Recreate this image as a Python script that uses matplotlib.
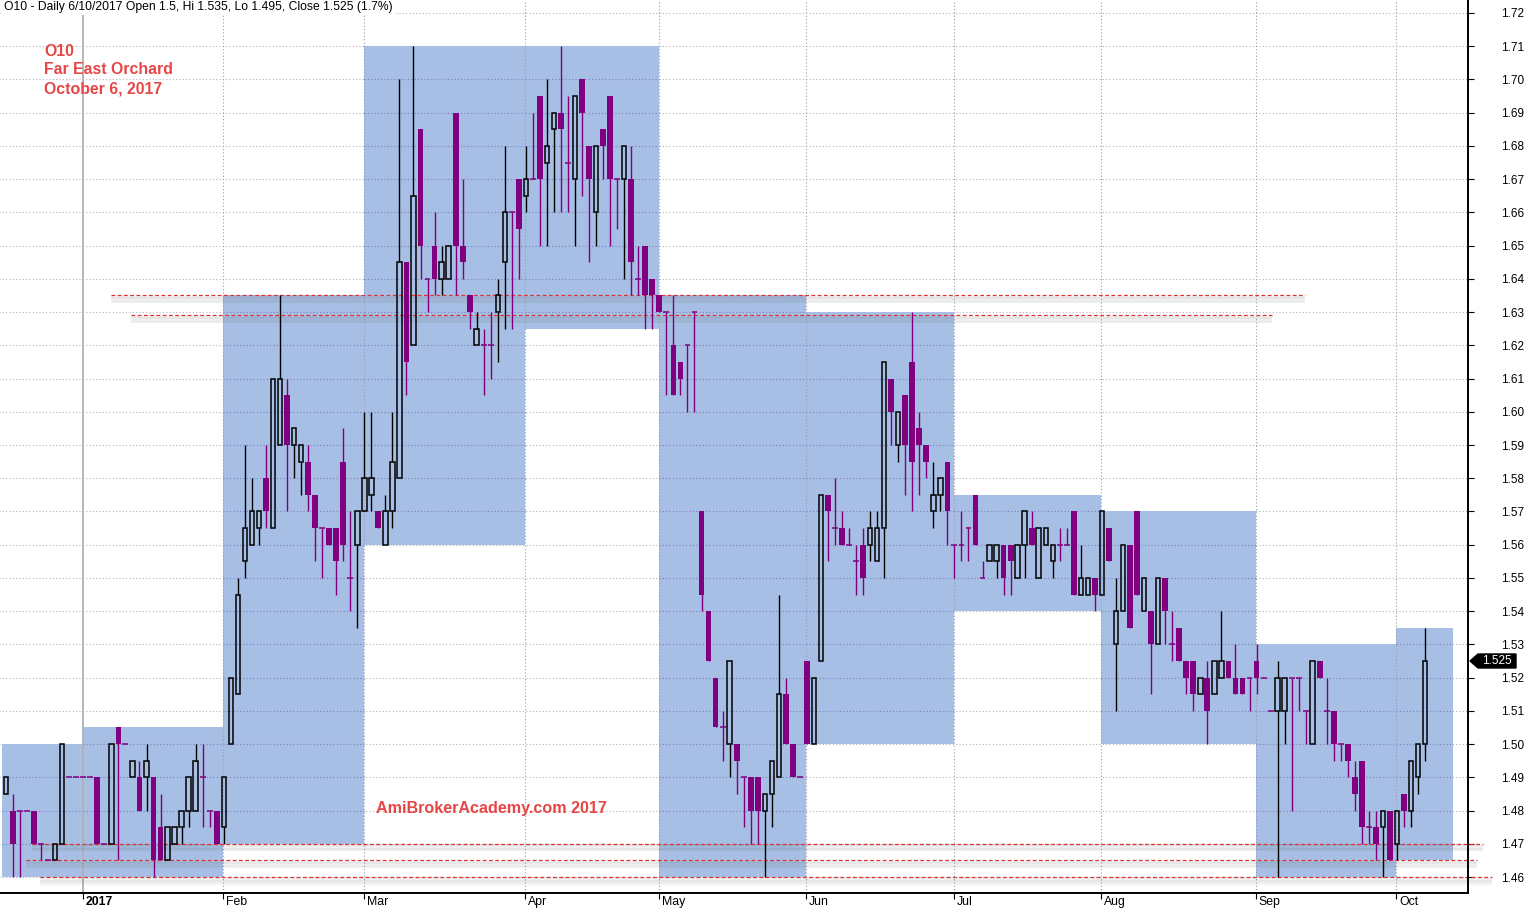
import matplotlib
matplotlib.use("Agg")
import matplotlib.pyplot as plt
import numpy as np
from matplotlib.patches import Rectangle, Polygon
from matplotlib.transforms import blended_transform_factory, offset_copy, ScaledTranslation

plt.rcParams['font.family'] = ['Liberation Sans', 'DejaVu Sans']

# O10 daily bars, end of Dec 2016 .. 6 Oct 2017 (0.005 ticks)
opens = [
    1.485, 1.48, 1.48, 1.48, 1.48, 1.47, 1.465, 1.465, 1.47, 1.49, 1.49,
    1.49, 1.49, 1.49, 1.47, 1.47, 1.505, 1.50, 1.49, 1.49, 1.49, 1.49, 1.475, 1.465, 1.47, 1.475, 1.48, 1.48, 1.49, 1.48, 1.48,
    1.475, 1.50, 1.515, 1.555, 1.56, 1.565, 1.58, 1.565, 1.59, 1.605, 1.59, 1.585, 1.585, 1.575, 1.565, 1.565, 1.565, 1.585, 1.55, 1.56,
    1.57, 1.575, 1.57, 1.56, 1.57, 1.58, 1.645, 1.62, 1.685, 1.64, 1.65, 1.64, 1.64, 1.69, 1.65, 1.635, 1.62, 1.62, 1.62, 1.63, 1.645, 1.66, 1.67,
    1.665, 1.67, 1.695, 1.675, 1.685, 1.69, 1.675, 1.67, 1.70, 1.68, 1.66, 1.685, 1.695, 1.67, 1.67, 1.67, 1.64, 1.65, 1.64,
    1.635, 1.63, 1.62, 1.615, 1.62, 1.63, 1.57, 1.54, 1.52, 1.505, 1.50, 1.50, 1.49, 1.49, 1.49, 1.48, 1.485, 1.49, 1.515, 1.50, 1.49,
    1.525, 1.50, 1.525, 1.575, 1.565, 1.565, 1.56, 1.555, 1.56, 1.56, 1.555, 1.565, 1.61, 1.59, 1.605, 1.615, 1.595, 1.59, 1.57, 1.575, 1.585,
    1.56, 1.56, 1.565, 1.575, 1.55, 1.555, 1.555, 1.56, 1.56, 1.55, 1.56, 1.565, 1.55, 1.56, 1.555, 1.56, 1.56, 1.57, 1.545, 1.545, 1.55,
    1.545, 1.565, 1.53, 1.54, 1.56, 1.57, 1.54, 1.54, 1.53, 1.55, 1.53, 1.535, 1.525, 1.525, 1.515, 1.52, 1.515, 1.52, 1.525, 1.52, 1.52, 1.52,
    1.525, 1.52, 1.51, 1.51, 1.51, 1.52, 1.52, 1.51, 1.50, 1.525, 1.51, 1.51, 1.50, 1.50, 1.49, 1.495, 1.475, 1.475, 1.475, 1.48,
    1.47, 1.485, 1.48, 1.49, 1.50,
]
highs = [
    1.49, 1.485, 1.48, 1.48, 1.48, 1.47, 1.465, 1.47, 1.50, 1.49, 1.49,
    1.49, 1.49, 1.49, 1.47, 1.50, 1.505, 1.50, 1.495, 1.495, 1.50, 1.49, 1.485, 1.475, 1.475, 1.48, 1.49, 1.50, 1.50, 1.48, 1.48,
    1.49, 1.52, 1.55, 1.59, 1.58, 1.57, 1.59, 1.61, 1.635, 1.61, 1.595, 1.59, 1.59, 1.575, 1.565, 1.565, 1.565, 1.595, 1.57, 1.57,
    1.60, 1.60, 1.57, 1.575, 1.60, 1.70, 1.645, 1.71, 1.685, 1.64, 1.66, 1.65, 1.65, 1.69, 1.67, 1.635, 1.63, 1.625, 1.63, 1.64, 1.68, 1.66, 1.67,
    1.68, 1.69, 1.695, 1.70, 1.69, 1.71, 1.695, 1.695, 1.70, 1.68, 1.68, 1.685, 1.695, 1.67, 1.68, 1.68, 1.65, 1.65, 1.64,
    1.635, 1.63, 1.635, 1.615, 1.62, 1.63, 1.57, 1.54, 1.52, 1.51, 1.525, 1.50, 1.49, 1.49, 1.49, 1.485, 1.495, 1.545, 1.52, 1.50, 1.49,
    1.525, 1.52, 1.575, 1.575, 1.58, 1.57, 1.565, 1.56, 1.565, 1.57, 1.57, 1.615, 1.61, 1.60, 1.605, 1.63, 1.60, 1.59, 1.585, 1.58, 1.585,
    1.56, 1.57, 1.565, 1.575, 1.555, 1.56, 1.56, 1.56, 1.56, 1.56, 1.57, 1.57, 1.565, 1.565, 1.56, 1.565, 1.565, 1.57, 1.56, 1.55, 1.55,
    1.57, 1.565, 1.55, 1.56, 1.56, 1.57, 1.55, 1.54, 1.55, 1.55, 1.54, 1.535, 1.525, 1.525, 1.52, 1.525, 1.525, 1.54, 1.525, 1.53, 1.52, 1.52,
    1.53, 1.52, 1.51, 1.525, 1.52, 1.52, 1.52, 1.51, 1.525, 1.525, 1.52, 1.51, 1.50, 1.50, 1.495, 1.495, 1.48, 1.48, 1.48, 1.48,
    1.48, 1.485, 1.495, 1.50, 1.535,
]
lows = [
    1.485, 1.46, 1.46, 1.48, 1.47, 1.465, 1.465, 1.465, 1.47, 1.49, 1.49,
    1.49, 1.49, 1.47, 1.47, 1.47, 1.465, 1.50, 1.49, 1.48, 1.48, 1.46, 1.465, 1.465, 1.47, 1.47, 1.475, 1.48, 1.475, 1.475, 1.47,
    1.47, 1.50, 1.515, 1.55, 1.56, 1.56, 1.565, 1.565, 1.59, 1.57, 1.58, 1.575, 1.57, 1.555, 1.55, 1.56, 1.545, 1.555, 1.54, 1.535,
    1.57, 1.57, 1.565, 1.56, 1.565, 1.58, 1.605, 1.62, 1.64, 1.63, 1.635, 1.635, 1.64, 1.635, 1.64, 1.625, 1.62, 1.605, 1.61, 1.615, 1.625, 1.625, 1.64,
    1.66, 1.67, 1.65, 1.65, 1.66, 1.66, 1.66, 1.65, 1.665, 1.645, 1.65, 1.67, 1.65, 1.655, 1.64, 1.635, 1.635, 1.625, 1.625,
    1.63, 1.605, 1.605, 1.605, 1.60, 1.60, 1.54, 1.525, 1.505, 1.495, 1.49, 1.485, 1.475, 1.47, 1.47, 1.46, 1.475, 1.49, 1.50, 1.49, 1.49,
    1.50, 1.50, 1.525, 1.555, 1.56, 1.56, 1.56, 1.545, 1.545, 1.555, 1.555, 1.55, 1.59, 1.585, 1.575, 1.57, 1.575, 1.58, 1.565, 1.57, 1.56,
    1.55, 1.555, 1.555, 1.56, 1.55, 1.555, 1.55, 1.545, 1.545, 1.55, 1.55, 1.56, 1.55, 1.56, 1.55, 1.555, 1.56, 1.545, 1.545, 1.545, 1.54,
    1.545, 1.555, 1.51, 1.54, 1.535, 1.545, 1.54, 1.515, 1.53, 1.53, 1.525, 1.525, 1.515, 1.51, 1.515, 1.50, 1.515, 1.52, 1.52, 1.515, 1.515, 1.51,
    1.515, 1.52, 1.51, 1.46, 1.50, 1.48, 1.51, 1.50, 1.50, 1.52, 1.50, 1.495, 1.495, 1.49, 1.48, 1.47, 1.47, 1.465, 1.46, 1.465,
    1.465, 1.475, 1.475, 1.485, 1.495,
]
closes = [
    1.49, 1.47, 1.48, 1.48, 1.47, 1.47, 1.465, 1.47, 1.50, 1.49, 1.49,
    1.49, 1.49, 1.47, 1.47, 1.50, 1.50, 1.50, 1.495, 1.48, 1.495, 1.465, 1.465, 1.475, 1.475, 1.48, 1.49, 1.495, 1.49, 1.48, 1.47,
    1.49, 1.52, 1.545, 1.565, 1.57, 1.57, 1.57, 1.61, 1.61, 1.59, 1.595, 1.59, 1.575, 1.565, 1.565, 1.56, 1.555, 1.56, 1.55, 1.57,
    1.58, 1.58, 1.565, 1.57, 1.585, 1.645, 1.615, 1.665, 1.65, 1.64, 1.64, 1.645, 1.65, 1.65, 1.645, 1.63, 1.625, 1.62, 1.62, 1.635, 1.66, 1.66, 1.655,
    1.67, 1.67, 1.67, 1.68, 1.69, 1.685, 1.675, 1.695, 1.69, 1.67, 1.68, 1.68, 1.67, 1.67, 1.68, 1.645, 1.64, 1.635, 1.635,
    1.63, 1.63, 1.605, 1.61, 1.62, 1.63, 1.545, 1.525, 1.505, 1.505, 1.525, 1.495, 1.49, 1.48, 1.48, 1.485, 1.495, 1.515, 1.50, 1.49, 1.49,
    1.50, 1.52, 1.575, 1.57, 1.565, 1.56, 1.56, 1.555, 1.55, 1.565, 1.565, 1.615, 1.60, 1.60, 1.59, 1.585, 1.59, 1.585, 1.575, 1.58, 1.57,
    1.56, 1.56, 1.565, 1.56, 1.55, 1.56, 1.56, 1.55, 1.555, 1.56, 1.57, 1.56, 1.565, 1.565, 1.56, 1.56, 1.56, 1.545, 1.55, 1.55, 1.545,
    1.57, 1.555, 1.54, 1.56, 1.535, 1.545, 1.55, 1.53, 1.55, 1.54, 1.53, 1.525, 1.52, 1.515, 1.52, 1.51, 1.525, 1.525, 1.52, 1.515, 1.515, 1.52,
    1.52, 1.52, 1.51, 1.52, 1.52, 1.52, 1.52, 1.51, 1.525, 1.52, 1.51, 1.50, 1.50, 1.495, 1.485, 1.475, 1.475, 1.47, 1.48, 1.465,
    1.48, 1.48, 1.495, 1.50, 1.525,
]

# first bar of each month and its axis label
month_starts = [0, 11, 31, 51, 74, 93, 114, 135, 156, 178, 198]
month_labels = ['', '2017', 'Feb', 'Mar', 'Apr', 'May', 'Jun', 'Jul', 'Aug', 'Sep', 'Oct']
month_box_end = 206.0          # Oct box runs on past the last bar

# hand-drawn level lines: (price, from bar, to bar)
levels = [
    (1.635, 14.95, 184.9),
    (1.629, 17.8, 180.2),
    (1.47, 3.7, 210.2),
    (1.465, 2.85, 209.4),
    (1.46, 4.84, 211.5),
]

price_ticks = np.round(np.arange(1.46, 1.7201, 0.01), 2)
title = "O10 - Daily 6/10/2017 Open 1.5, Hi 1.535, Lo 1.495, Close 1.525 (1.7%)"
last_close = 1.525

o = np.array(opens); h = np.array(highs); l = np.array(lows); c = np.array(closes)
x = np.arange(len(o))
up = c > o + 1e-9
dn = c < o - 1e-9
fl = ~(up | dn)

purple = '#800080'
box_col = '#A7BFE4'
red = '#E64646'

W, H = 1529, 910
fig = plt.figure(figsize=(W / 100, H / 100), dpi=100)
ax = fig.add_axes([0, (H - 893) / H, 1468 / W, 893 / H])
ax.set_xlim(-0.854, 208.1)
ax.set_ylim(1.46 - 16 / 3323.08, 1.72 + 13 / 3323.08)

# grid under the boxes
ax.hlines(price_ticks, -1, 209, color='#b4b4b4', lw=0.8, linestyle=(0, (1, 2)), zorder=0.5)

# monthly high/low boxes
edges = [s - 0.1 for s in month_starts]
edges[0] = -0.57
edges.append(month_box_end)
for k in range(len(month_starts)):
    s = month_starts[k]
    e = month_starts[k + 1] if k + 1 < len(month_starts) else len(o)
    hi, lo = h[s:e].max(), l[s:e].min()
    ax.add_patch(Rectangle((edges[k], lo), edges[k + 1] - edges[k], hi - lo,
                           facecolor=box_col, edgecolor='none', zorder=1))
    inside = price_ticks[(price_ticks > lo + 1e-6) & (price_ticks < hi - 1e-6)]
    ax.hlines(inside, edges[k], edges[k + 1], color='#7f7fbf', lw=0.8,
              linestyle=(0, (1, 2)), zorder=1.2)

# month separators
for k, s in enumerate(month_starts[1:], start=1):
    if month_labels[k] == '2017':
        ax.axvline(edges[k], color='#b0b0b0', lw=1.3, zorder=1.3)
    else:
        ax.axvline(edges[k], color='#9a9ab8', lw=0.8, linestyle=(0, (1, 2)), zorder=1.3)

# candles
ax.vlines(x[up], np.maximum(o, c)[up], h[up], color='black', lw=1, zorder=3)
ax.vlines(x[up], l[up], np.minimum(o, c)[up], color='black', lw=1, zorder=3)
ax.bar(x[up], (c - o)[up], bottom=o[up], width=0.64, facecolor='none',
       edgecolor='black', linewidth=1.1, zorder=3)
ax.vlines(x[dn], l[dn], h[dn], color=purple, lw=1, zorder=3)
ax.bar(x[dn], (o - c)[dn], bottom=c[dn], width=0.82, color=purple, linewidth=0, zorder=3)
ax.vlines(x[fl], l[fl], h[fl], color=purple, lw=1, zorder=3)
ax.hlines(o[fl], x[fl] - 0.42, x[fl] + 0.42, color=purple, lw=1.1, zorder=3)

# level lines with soft shadow
for price, x0, x1 in levels:
    for k in range(1, 6):
        tr = offset_copy(ax.transData, fig=fig, x=0, y=-k * 1.3, units='dots')
        ax.hlines(price, x0, x1, color='#606060', alpha=0.07, lw=1.6,
                  transform=tr, clip_on=False, zorder=2)
    ax.hlines(price, x0, x1, color='#e03030', lw=0.9, linestyle=(0, (3, 2)),
              clip_on=False, zorder=2.1)

# axes styling
for side in ['top', 'left']:
    ax.spines[side].set_visible(False)
ax.spines['right'].set_linewidth(1.4)
ax.spines['bottom'].set_linewidth(1.4)
ax.yaxis.tick_right()
ax.set_yticks(price_ticks)
ax.set_yticklabels([f"{v:.2f}" for v in price_ticks])
ax.tick_params(axis='y', direction='out', length=4, width=0.8, pad=20, labelsize=8.5)

ax.set_xticks(edges[1:-1])
ax.set_xticklabels(month_labels[1:])
ax.tick_params(axis='x', direction='out', length=4, width=0.8, pad=0, labelsize=8.8)
shift = ScaledTranslation(3 / 100, 2.5 / 100, fig.dpi_scale_trans)
for lab in ax.get_xticklabels():
    lab.set_ha('left')
    lab.set_transform(lab.get_transform() + shift)
    if lab.get_text() == '2017':
        lab.set_fontweight('bold')

# last price tag
bt = blended_transform_factory(ax.transAxes, ax.transData)
dy = 7 / 3323.08
tag = Polygon([(1470 / 1468, last_close), (1478 / 1468, last_close + dy),
               (1516 / 1468, last_close + dy), (1516 / 1468, last_close - dy),
               (1478 / 1468, last_close - dy)], closed=True, transform=bt,
              facecolor='black', edgecolor='black', clip_on=False, zorder=5)
ax.add_patch(tag)
ax.text(1497 / 1468, last_close, f"{last_close:.3f}", transform=bt, color='white',
        fontsize=8.5, ha='center', va='center', zorder=6, clip_on=False)

# texts
fig.text(4 / W, 1 - 7 / H, title, fontsize=8.7, va='center', ha='left',
         bbox=dict(facecolor='white', edgecolor='none', pad=1.5), zorder=10)
for txt, yy in [("O10", 51), ("Far East Orchard", 70), ("October 6, 2017", 89)]:
    fig.text(44 / W, 1 - yy / H, txt, color=red, fontsize=11.4, fontweight='bold',
             va='center', ha='left')
fig.text(376 / W, 1 - 808 / H, "AmiBrokerAcademy.com 2017", color=red, fontsize=11.6,
         fontweight='bold', va='center', ha='left')

fig.savefig('out.png', dpi=100)
